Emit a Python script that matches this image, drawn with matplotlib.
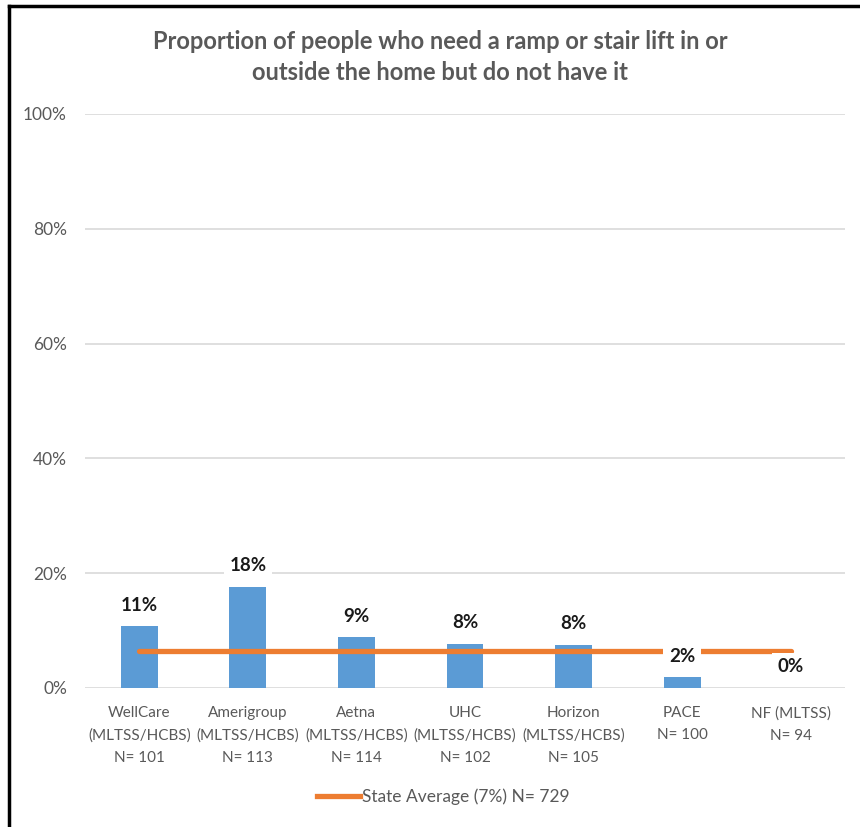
import numpy as np
import matplotlib
matplotlib.use("Agg")
from matplotlib import pyplot as plt
from matplotlib.lines import Line2D

# data
plans = ["WellCare\n(MLTSS/HCBS)\nN= 101", "Amerigroup\n(MLTSS/HCBS)\nN= 113",
         "Aetna\n(MLTSS/HCBS)\nN= 114", "UHC\n(MLTSS/HCBS)\nN= 102",
         "Horizon\n(MLTSS/HCBS)\nN= 105", "PACE\nN= 100", "NF (MLTSS)\nN= 94"]
values = [10.8, 17.6, 8.8, 7.7, 7.5, 1.9, 0.0]
labels = ["11%", "18%", "9%", "8%", "8%", "2%", "0%"]
state_avg = 6.5
legend_label = "State Average (7%) N= 729"
title = "Proportion of people who need a ramp or stair lift in or\noutside the home but do not have it"
yticks = [0, 20, 40, 60, 80, 100]

plt.rcParams['font.family'] = ['Lato', 'DejaVu Sans']

fig = plt.figure(figsize=(8.6, 8.27), dpi=100)
ax = fig.add_axes([85/860, 1-688/827, 760/860, 574/827])

x = np.arange(len(plans))
ax.bar(x, values, width=0.34, color="#5B9BD5", zorder=2)
ax.plot(x, [state_avg]*len(x), color="#ED7D31", lw=3.8, solid_capstyle="round", zorder=3)

for xi, v, lab in zip(x, values, labels):
    ax.annotate(lab, (xi, v), xytext=(0, 9), textcoords="offset points",
                ha="center", va="bottom", fontsize=13.5, fontweight="bold", color="#1a1a1a",
                bbox=dict(boxstyle="square,pad=0.3", fc="white", ec="none"), zorder=4)

ax.set_xlim(-0.5, len(plans)-0.5)
ax.set_ylim(0, 100)
ax.set_yticks(yticks)
ax.set_yticklabels([f"{t}%" for t in yticks], fontsize=12.5, color="#595959")
ax.set_xticks(x)
ax.set_xticklabels(plans, fontsize=11, color="#595959", linespacing=1.75)
ax.tick_params(length=0)
ax.tick_params(axis="y", pad=13)
ax.tick_params(axis="x", pad=13)
ax.grid(axis="y", color="#D9D9D9", lw=1.2, zorder=0)
for s in ax.spines.values():
    s.set_visible(False)

fig.text(440/860, 1-57/827, title, ha="center", va="center", fontsize=17,
         fontweight="bold", color="#595959", linespacing=1.45)

handle = Line2D([], [], color="#ED7D31", lw=3.8)
fig.legend([handle], [legend_label], loc="center", bbox_to_anchor=(443/860, 1-797/827),
           frameon=False, fontsize=12.5, labelcolor="#595959", handlelength=2.5,
           handletextpad=0.1)

# outer border (left and top only)
fig.add_artist(Line2D([9/860, 9/860], [0, 1-6/827], color="black", lw=2.5, transform=fig.transFigure))
fig.add_artist(Line2D([9/860, 1], [1-6/827, 1-6/827], color="black", lw=2.5, transform=fig.transFigure))

fig.savefig("out.png", dpi=100, facecolor="white")
